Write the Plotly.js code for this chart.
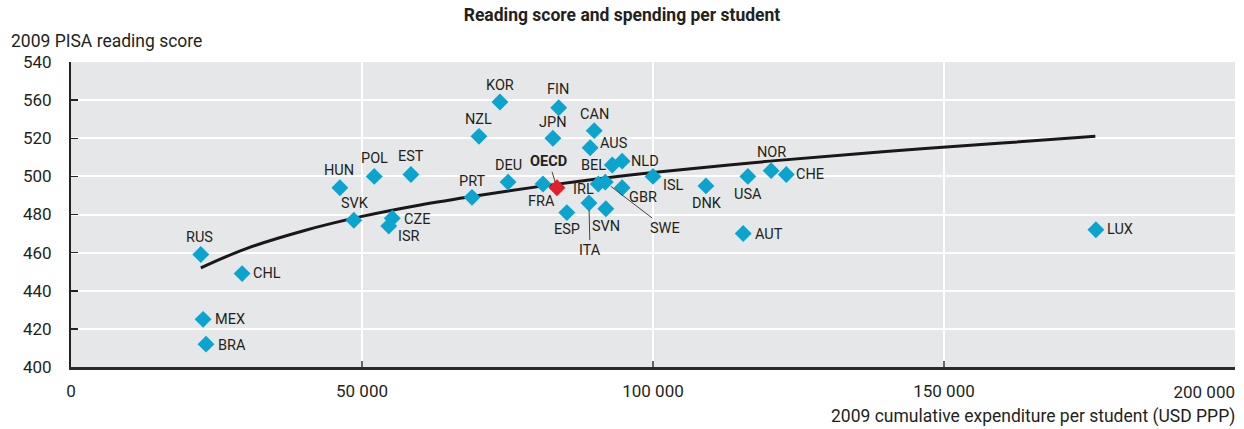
<!DOCTYPE html>
<html>
<head>
<meta charset="utf-8">
<script src="https://cdn.plot.ly/plotly-3.0.1.min.js"></script>
<style>
  html, body { margin: 0; padding: 0; background: #fff; }
  #chart { width: 1244px; height: 429px; }
</style>
</head>
<body>
<div id="chart"></div>
<script>
// ---- Data ----
const countries = ["RUS","MEX","BRA","CHL","HUN","SVK","POL","EST","CZE","ISR","PRT","NZL","KOR","FIN","JPN","CAN","AUS","DEU","FRA","ESP","IRL","ITA","SVN","BEL","NLD","GBR","SWE","ISL","DNK","USA","NOR","CHE","AUT","LUX"];
const spending  = [22300, 22700, 23200, 29400, 46200, 48600, 52100, 58400, 55200, 54600, 68900, 70100, 73700, 83800, 82800, 89900, 89200, 75100, 81100, 85200, 90600, 89000, 91900, 93000, 94700, 94700, 91800, 100000, 109100, 116300, 120300, 122900, 115500, 176100];
const reading   = [459, 425, 412, 449, 494, 477, 500, 501, 478, 474, 489, 521, 539, 536, 520, 524, 515, 497, 496, 481, 496, 486, 483, 506, 508, 494, 497, 500, 495, 500, 503, 501, 470, 472];

const oecdLabel = ["OECD"];
const oecdSpending = [83500];
const oecdReading = [494];

// trend curve points
const trendSpending = [22300, 30000, 40000, 50000, 60000, 70000, 80000, 90000, 100000, 120000, 140000, 160000, 176000];
const trendReading  = [452, 462, 471.5, 479, 485, 490, 494.5, 498.5, 502, 508, 513, 517.5, 521];

const yTickVals = [400, 420, 440, 460, 480, 500, 520, 540, 560];
const yTickText = ["400", "420", "440", "460", "480", "500", "520", "560", "540"];
const xTickVals = [0, 50000, 100000, 150000];
const xTickText = ["0", "50 000", "100 000", "150 000"];
const xLastTickVal = [200000];
const xLastTickText = ["200 000"];

// ---- Label placement (pixel offsets of label centre from the marker) ----
const labelOffset = {
  RUS:[-1,-17], MEX:[27,0], BRA:[26,1], CHL:[25,0], HUN:[-1,-17], SVK:[1,-17],
  POL:[0,-18], EST:[0,-18], CZE:[25,1], ISR:[20,11], PRT:[0,-16], NZL:[0,-17],
  KOR:[0,-17], FIN:[-1,-18], JPN:[0,-16], CAN:[0,-16], AUS:[24,-4], DEU:[0,-17],
  FRA:[-2,17], ESP:[0,17], IRL:[-15,5], ITA:[1,47], SVN:[0,18], BEL:[-19,1],
  NLD:[23,0], GBR:[21,10], SWE:[60,46], ISL:[20,9], DNK:[1,18], USA:[0,18],
  NOR:[0,-18], CHE:[24,0], AUT:[26,1], LUX:[24,0]
};
const leaderLines = {ITA:true, SWE:true};
const oecdOffset = [-8, -26];

const FONT = 'Roboto, "Liberation Sans", sans-serif';
const TXT = '#231f20';
const LABEL_SIZE = 14.5;
const AXIS_SIZE = 17.5;
const TICK_SIZE = 17;

const traces = [
  {
    x: trendSpending, y: trendReading, type: 'scatter', mode: 'lines',
    line: {color: '#1a1718', width: 3, shape: 'spline'}, hoverinfo: 'skip', showlegend: false
  },
  {
    x: spending, y: reading, text: countries, type: 'scatter', mode: 'markers',
    marker: {symbol: 'diamond', size: 13, color: '#0aa4cf', line: {width: 0}},
    showlegend: false
  },
  {
    x: oecdSpending, y: oecdReading, text: oecdLabel, type: 'scatter', mode: 'markers',
    marker: {symbol: 'diamond', size: 13, color: '#e1202a', line: {width: 0}},
    showlegend: false
  },
  { x: [], y: [], xaxis: 'x2', type: 'scatter', showlegend: false, hoverinfo: 'skip' }
];

const annotations = [];
countries.forEach((c, i) => {
  const off = labelOffset[c] || [0, -17];
  if (leaderLines[c]) {
    annotations.push({
      x: spending[i], y: reading[i], xref: 'x', yref: 'y', text: c,
      showarrow: true, arrowhead: 0, arrowwidth: 1, arrowcolor: '#444',
      ax: off[0], ay: off[1], standoff: 7, startstandoff: 0,
      font: {family: FONT, size: LABEL_SIZE, color: TXT}
    });
  } else {
    annotations.push({
      x: spending[i], y: reading[i], xref: 'x', yref: 'y', text: c,
      showarrow: false, xanchor: 'center', yanchor: 'middle',
      xshift: off[0], yshift: -off[1],
      font: {family: FONT, size: LABEL_SIZE, color: TXT}
    });
  }
});
annotations.push({
  x: oecdSpending[0], y: oecdReading[0], xref: 'x', yref: 'y', text: '<b>' + oecdLabel[0] + '</b>',
  showarrow: true, arrowhead: 0, arrowwidth: 1, arrowcolor: '#444',
  ax: oecdOffset[0], ay: oecdOffset[1], standoff: 6, startstandoff: 0,
  font: {family: FONT, size: LABEL_SIZE, color: TXT}
});
// axis titles
annotations.push({
  text: '2009 PISA reading score', xref: 'paper', yref: 'paper', x: 0, y: 1,
  xanchor: 'left', yanchor: 'bottom', xshift: -62, yshift: 9, showarrow: false,
  font: {family: FONT, size: AXIS_SIZE, color: TXT}
});
annotations.push({
  text: '2009 cumulative expenditure per student (USD PPP)', xref: 'paper', yref: 'paper', x: 1, y: 0,
  xanchor: 'right', yanchor: 'top', xshift: 2, yshift: -37, showarrow: false,
  font: {family: FONT, size: AXIS_SIZE, color: TXT}
});

const layout = {
  width: 1244, height: 429,
  margin: {l: 71, r: 9, t: 62, b: 62},
  paper_bgcolor: '#ffffff',
  plot_bgcolor: '#e6e7e8',
  font: {family: FONT, size: AXIS_SIZE, color: TXT},
  title: {
    text: '<b>Reading score and spending per student</b>',
    x: 0.5, xref: 'container', xanchor: 'center',
    y: 0.965, yref: 'container', yanchor: 'middle',
    font: {family: FONT, size: 17.5, color: TXT}
  },
  xaxis: {
    range: [0, 200000], tickvals: xTickVals, ticktext: xTickText,
    ticks: 'inside', ticklen: 6, tickwidth: 2, tickcolor: '#666',
    showgrid: true, gridcolor: '#ffffff', gridwidth: 2,
    showline: true, linecolor: '#2b2b2b', linewidth: 2.5,
    zeroline: false, fixedrange: true, ticklabelstandoff: 7,
    tickfont: {family: FONT, size: TICK_SIZE, color: TXT}
  },
  xaxis2: {
    overlaying: 'x', anchor: 'y', side: 'bottom',
    range: [0, 200000], tickvals: xLastTickVal, ticktext: xLastTickText,
    ticklabelposition: 'outside left', ticks: '', showgrid: false,
    showline: false, zeroline: false, fixedrange: true, ticklabelstandoff: 13,
    tickfont: {family: FONT, size: TICK_SIZE, color: TXT}
  },
  yaxis: {
    range: [400, 560], tickvals: yTickVals, ticktext: yTickText,
    ticks: 'inside', ticklen: 7, tickwidth: 1.5, tickcolor: '#222',
    showgrid: true, gridcolor: '#ffffff', gridwidth: 2,
    showline: true, linecolor: '#222', linewidth: 2,
    zeroline: false, fixedrange: true, ticklabelstandoff: 14,
    tickfont: {family: FONT, size: TICK_SIZE, color: TXT}
  },
  annotations: annotations,
  showlegend: false
};

Plotly.newPlot('chart', traces, layout, {displayModeBar: false, staticPlot: true});
</script>
</body>
</html>
